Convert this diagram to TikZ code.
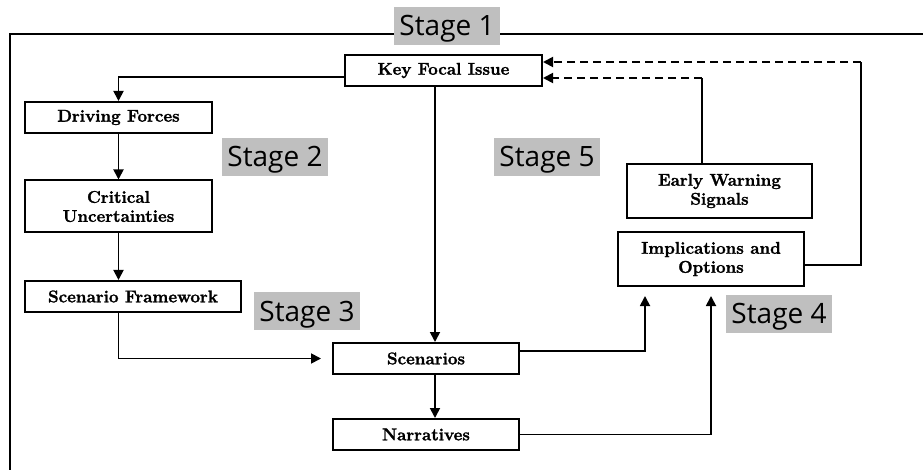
\documentclass[tikz,border=0pt]{standalone}
\usepackage{fontspec}
\newfontfamily\stagefont{Open Sans}
\newfontfamily\boxfont[BoldFeatures={FakeBold=1.6}]{Latin Modern Roman}
\usetikzlibrary{arrows.meta,calc}
\definecolor{stagegray}{RGB}{191,191,191}
\tikzset{
  box/.style={draw, line width=2pt, fill=white, align=center,
    font=\boxfont\fontsize{17}{19}\selectfont\bfseries, inner sep=0pt},
  conn/.style={line width=1.8pt, -{Triangle[length=10pt,width=10pt]}},
  plainline/.style={line width=1.8pt},
  dashconn/.style={line width=1.8pt, dash pattern=on 8pt off 5pt, -{Triangle[length=10pt,width=10pt]}},
  frameline/.style={line width=2.2pt},
  stagelbl/.style={fill=stagegray, font=\stagefont\fontsize{28}{30}\selectfont,
    minimum width=106pt, minimum height=38pt, text height=20pt, text depth=0pt,
    inner ysep=9pt, inner xsep=2pt}
}
\begin{document}
\begin{tikzpicture}[x=1pt,y=-1pt]
\useasboundingbox (0,0) rectangle (923,470);
% frame
\coordinate (fr1) at (925,34);
\coordinate (fr2) at (10,34);
\coordinate (fr3) at (10,472);
\draw[frameline] (fr1) -- (fr2) -- (fr3);
% stage labels
\node[stagelbl] (s1) at (447,26) {Stage 1};
\node[stagelbl] (s2) at (275,157) {Stage 2};
\node[stagelbl] (s3) at (307,311) {Stage 3};
\node[stagelbl] (s4) at (779,313.5) {Stage 4};
\node[stagelbl] (s5) at (547,157) {Stage 5};
% boxes
\node[box, minimum width=197pt, minimum height=31pt] (kfi) at (443.5,70.5) {Key Focal Issue};
\node[box, minimum width=187pt, minimum height=31pt] (df) at (118.5,117.5) {Driving Forces};
\node[box, minimum width=187pt, minimum height=52pt] (cu) at (118.5,206.5) {Critical\\Uncertainties};
\node[box, minimum width=216pt, minimum height=31pt] (sf) at (133,296.5) {Scenario Framework};
\node[box, minimum width=186pt, minimum height=31pt] (sc) at (426,358.5) {Scenarios};
\node[box, minimum width=186pt, minimum height=31pt] (nar) at (426,434.5) {Narratives};
\node[box, minimum width=185pt, minimum height=54pt] (ews) at (719.5,191) {Early Warning\\Signals};
\node[box, minimum width=186pt, minimum height=54pt] (impl) at (711,259) {Implications and\\Options};
% connectors
\draw[conn] ([yshift=-6.5pt]kfi.west) -| (df.north);
\draw[conn] (df.south) -- (cu.north);
\draw[conn] (cu.south) -- (cu.south |- sf.north);
\draw[conn] (cu.south |- sf.south) |- ([xshift=-11pt]sc.west);
\coordinate (kfx) at ([xshift=-8.5pt]kfi.south);
\draw[conn] (kfx) -- (kfx |- sc.north);
\draw[conn] (kfx |- sc.south) -- (kfx |- nar.north);
\draw[conn] ([yshift=7.5pt]sc.east) -| ([xshift=-66pt,yshift=-9pt]impl.south);
\draw[conn] (nar.east) -| ([yshift=-9pt]impl.south);
% feedback
\coordinate (c1) at ([yshift=-6pt]impl.east);
\coordinate (c2) at ([yshift=8.5pt]kfi.east);
\coordinate (r1) at (861,62);
\draw[plainline] (c1) -| (r1);
\draw[dashconn] (r1) -- (c2);
\coordinate (c3) at ([yshift=-7.5pt]kfi.east);
\coordinate (e1) at ([xshift=-17.5pt]ews.north);
\draw[plainline] (e1) -- (e1 |- c3);
\draw[dashconn] (e1 |- c3) -- (c3);
\end{tikzpicture}
\end{document}
